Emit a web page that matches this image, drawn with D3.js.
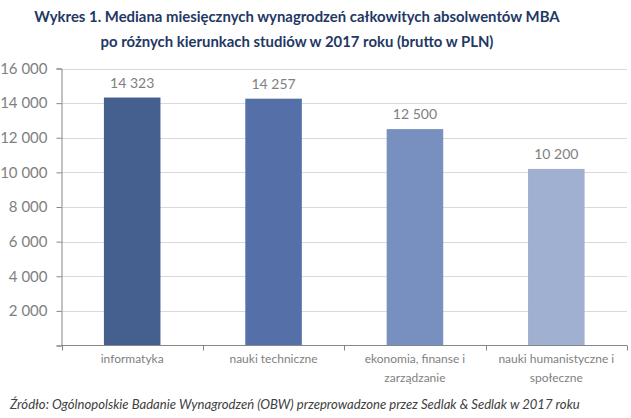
<!DOCTYPE html>
<html><head><meta charset="utf-8">
<script src="https://cdn.jsdelivr.net/npm/d3@7"></script>
<style>body{margin:0;background:#fff}svg{display:block}</style>
</head><body><svg id="c" width="631" height="418"></svg>
<script>
const categories = [["informatyka"],["nauki techniczne"],["ekonomia, finanse i","zarządzanie"],["nauki humanistyczne i","społeczne"]];
const values = [14323, 14257, 12500, 10200];
const valueLabels = ["14 323","14 257","12 500","10 200"];
const yTicks = [0,2000,4000,6000,8000,10000,12000,14000,16000];
const yTickLabels = ["","2 000","4 000","6 000","8 000","10 000","12 000","14 000","16 000"];
const barColors = ["#455f8e","#5570a8","#7790c0","#a0b0d0"];
const titleLines = ["Wykres 1. Mediana miesięcznych wynagrodzeń całkowitych absolwentów MBA","po różnych kierunkach studiów w 2017 roku (brutto w PLN)"];
const source = "Źródło: Ogólnopolskie Badanie Wynagrodzeń (OBW) przeprowadzone przez Sedlak & Sedlak w 2017 roku";

const svg = d3.select("#c");
const font = "Lato, 'Open Sans', sans-serif";
const x = d3.scaleBand().domain(d3.range(values.length)).range([61.5,627]).paddingInner(0.6).paddingOuter(0.3);
const xb = d3.scaleBand().domain(d3.range(values.length)).range([61.5,627]);
const y = d3.scaleLinear().domain([0,16000]).range([345.5,68.5]);

// title
svg.append("g").selectAll("text").data(titleLines).join("text")
  .attr("x",297).attr("y",(d,i)=>22+i*25).attr("text-anchor","middle")
  .attr("font-family",font).attr("font-weight","bold").attr("font-size",14.9)
  .attr("fill","#1f3864").text(d=>d);

// gridlines
svg.append("g").selectAll("line").data(yTicks.slice(1)).join("line")
  .attr("x1",61.5).attr("x2",627).attr("y1",d=>Math.round(y(d))+0.5).attr("y2",d=>Math.round(y(d))+0.5)
  .attr("stroke","#d9d9d9").attr("stroke-width",1);

// bars
svg.append("g").selectAll("rect").data(values).join("rect")
  .attr("x",(d,i)=>x(i)).attr("width",x.bandwidth())
  .attr("y",d=>y(d)).attr("height",d=>y(0)-y(d))
  .attr("fill",(d,i)=>barColors[i]);

// value labels
svg.append("g").selectAll("text").data(values).join("text")
  .attr("x",(d,i)=>x(i)+x.bandwidth()/2).attr("y",d=>y(d)-10)
  .attr("text-anchor","middle").attr("font-family",font).attr("font-size",14)
  .attr("fill","#7f7f7f").text((d,i)=>valueLabels[i]);

// y axis
const yAxis = d3.axisLeft(y).tickValues(yTicks).tickFormat((d,i)=>yTickLabels[i]).tickSize(5).tickPadding(9);
const gy = svg.append("g").attr("transform","translate(61.5,0)").call(yAxis);
gy.select(".domain").attr("stroke","#868686");
gy.selectAll(".tick line").attr("stroke","#868686");
gy.selectAll("text").attr("font-family",font).attr("font-size",15).attr("fill","#7f7f7f");

// x axis
const gx = svg.append("g").attr("transform",`translate(0,${y(0)})`);
gx.append("line").attr("x1",61.5).attr("x2",627).attr("stroke","#868686");
gx.selectAll(".tk").data(d3.range(values.length+1)).join("line").attr("class","tk")
  .attr("x1",i=>Math.round(i<values.length?xb(i):627)+0.5).attr("x2",i=>Math.round(i<values.length?xb(i):627)+0.5)
  .attr("y1",0).attr("y2",5).attr("stroke","#868686");
const lab = gx.selectAll(".cl").data(categories).join("text").attr("class","cl")
  .attr("text-anchor","middle").attr("font-family",font).attr("font-size",12)
  .attr("fill","#7f7f7f");
lab.each(function(d,i){
  d3.select(this).selectAll("tspan").data(d).join("tspan")
    .attr("x",x(i)+x.bandwidth()/2).attr("y",(t,j)=>17+j*19).text(t=>t);
});

// source
svg.append("text").attr("x",10).attr("y",409).attr("font-family",font).attr("font-style","italic")
  .attr("font-size",13.1).attr("fill","#404040").text(source);
</script></body></html>
